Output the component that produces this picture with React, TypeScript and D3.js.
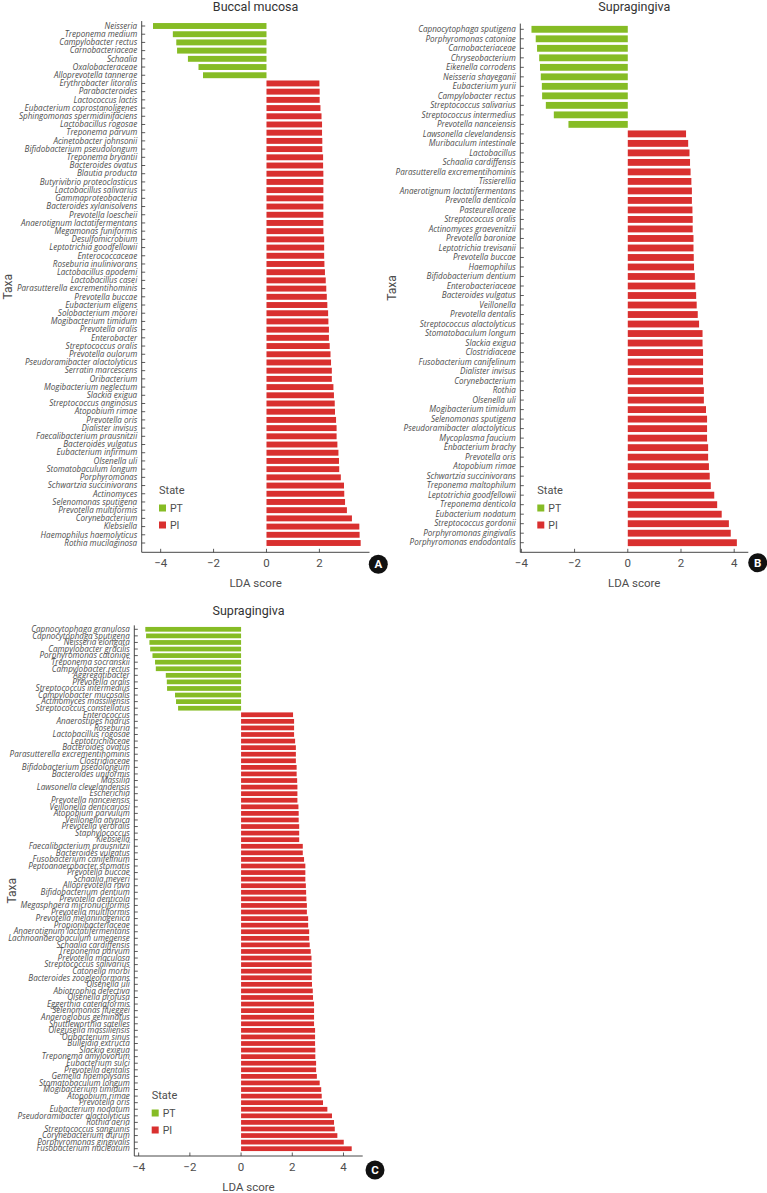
import React from "react";
import * as d3 from "d3";

// ---------- DATA ----------
const buccalTaxa = [
  "Neisseria", "Treponema medium", "Campylobacter rectus", "Carnobacteriaceae", "Schaalia",
  "Oxalobacteraceae", "Alloprevotella tannerae",
  "Erythrobacter litoralis", "Parabacteroides", "Lactococcus lactis", "Eubacterium coprostanoligenes",
  "Sphingomonas spermidinifaciens", "Lactobacillus rogosae", "Treponema parvum", "Acinetobacter johnsonii",
  "Bifidobacterium pseudolongum", "Treponema bryantii", "Bacteroides ovatus", "Blautia producta",
  "Butyrivibrio proteoclasticus", "Lactobacillus salivarius", "Gammaproteobacteria", "Bacteroides xylanisolvens",
  "Prevotella loescheii", "Anaerotignum lactatifermentans", "Megamonas funiformis", "Desulfomicrobium",
  "Leptotrichia goodfellowii", "Enterococcaceae", "Roseburia inulinivorans", "Lactobacillus apodemi",
  "Lactobacillus casei", "Parasutterella excrementihominis", "Prevotella buccae", "Eubacterium eligens",
  "Solobacterium moorei", "Mogibacterium timidum", "Prevotella oralis", "Enterobacter",
  "Streptococcus oralis", "Prevotella oulorum", "Pseudoramibacter alactolyticus", "Serratin marcescens",
  "Oribacterium", "Mogibacterium neglectum", "Slackia exigua", "Streptococcus anginosus",
  "Atopobium rimae", "Prevotella oris", "Dialister invisus", "Faecalibacterium prausnitzii",
  "Bacteroides vulgatus", "Eubacterium infirmum", "Olsenella uli", "Stomatobaculum longum",
  "Porphyromonas", "Schwartzia succinivorans", "Actinomyces", "Selenomonas sputigena",
  "Prevotella multiformis", "Corynebacterium", "Klebsiella", "Haemophilus haemolyticus", "Rothia mucilaginosa",
];
const buccalLDA = [
  -4.29, -3.54, -3.41, -3.38, -2.97, -2.57, -2.40,
  2.00, 2.01, 2.01, 2.04, 2.08, 2.10, 2.10, 2.11, 2.11, 2.14, 2.14, 2.15, 2.15, 2.15, 2.15, 2.15,
  2.15, 2.15, 2.15, 2.18, 2.18, 2.18, 2.19, 2.21, 2.24, 2.26, 2.28, 2.30, 2.33, 2.34, 2.36, 2.36,
  2.39, 2.42, 2.44, 2.47, 2.47, 2.53, 2.55, 2.58, 2.59, 2.63, 2.65, 2.65, 2.68, 2.72, 2.74, 2.75,
  2.81, 2.93, 2.94, 2.97, 3.04, 3.23, 3.51, 3.52, 3.56,
];

const supraBTaxa = [
  "Capnocytophaga sputigena", "Porphyromonas catoniae", "Carnobacteriaceae", "Chryseobacterium",
  "Eikenella corrodens", "Neisseria shayeganii", "Eubacterium yurii", "Campylobacter rectus",
  "Streptococcus salivarius", "Streptococcus intermedius", "Prevotella nanceiensis",
  "Lawsonella clevelandensis", "Muribaculum intestinale", "Lactobacillus", "Schaalia cardiffensis",
  "Parasutterella excrementihominis", "Tissierellia", "Anaerotignum lactatifermentans", "Prevotella denticola",
  "Pasteurellaceae", "Streptococcus oralis", "Actinomyces graevenitzii", "Prevotella baroniae",
  "Leptotrichia trevisanii", "Prevotella buccae", "Haemophilus", "Bifidobacterium dentium",
  "Enterobacteriaceae", "Bacteroides vulgatus", "Veillonella", "Prevotella dentalis",
  "Streptococcus alactolyticus", "Stomatobaculum longum", "Slackia exigua", "Clostridiaceae",
  "Fusobacterium canifelinum", "Dialister invisus", "Corynebacterium", "Rothia", "Olsenella uli",
  "Mogibacterium timidum", "Selenomonas sputigena", "Pseudoramibacter alactolyticus", "Mycoplasma faucium",
  "Enbacterium brachy", "Prevotella oris", "Atopobium rimae", "Schwartzia succinivorans",
  "Treponema maltophilum", "Leptotrichia goodfellowii", "Treponema denticola", "Eubacterium nodatum",
  "Streptococcus gordonii", "Porphyromonas gingivalis", "Porphyromonas endodontalis",
];
const supraBLDA = [
  -3.62, -3.46, -3.41, -3.33, -3.30, -3.27, -3.23, -3.22, -3.08, -2.78, -2.23,
  2.19, 2.27, 2.32, 2.34, 2.36, 2.39, 2.41, 2.41, 2.43, 2.44, 2.44, 2.47, 2.47, 2.48, 2.49, 2.52,
  2.54, 2.57, 2.59, 2.63, 2.68, 2.81, 2.81, 2.83, 2.83, 2.83, 2.83, 2.86, 2.86, 2.94, 2.98, 2.98,
  2.98, 3.02, 3.02, 3.05, 3.08, 3.12, 3.25, 3.36, 3.53, 3.80, 3.87, 4.10,
];

const supraCTaxa = [
  "Capnocytophaga granulosa", "Capnocytophaga sputigena", "Neisseria elongata", "Campylobacter gracilis",
  "Porphyromonas catoniae", "Treponema socranskii", "Campylobacter rectus", "Aggregatibacter",
  "Prevotella oralis", "Streptococcus intermedius", "Campylobacter mucosalis", "Actinomyces massiliensis",
  "Streptococcus constellatus",
  "Enterococcus", "Anaerostipes hadrus", "Roseburia", "Lactobacillus rogosae", "Leptotrichiaceae",
  "Bacteroides ovatus", "Parasutterella excrementihominis", "Clostridiaceae", "Bifidobacterium psedolongum",
  "Bacteroides uniformis", "Massilia", "Lawsonella clevelandensis", "Escherichia", "Prevotella nanceiensis",
  "Veillonella denticariosi", "Atopobium parvulum", "Veillonella atypica", "Prevotella veroralis",
  "Staphylococcus", "Klebsiella", "Faecalibacterium prausnitzii", "Bacteroides vulgatus",
  "Fusobacterium canifelinum", "Peptoanaerobacter stomatis", "Prevotella buccae", "Schaalia meyeri",
  "Alloprevotella rava", "Bifidobacterium dentium", "Prevotella denticola", "Megasphaera micronuciformis",
  "Prevotella multiformis", "Prevotella melaninogenica", "Propionibacteriaceae", "Anaerotignum lactatifermentans",
  "Lachnoanaerobaculum umeaense", "Schaalia cardiffensis", "Treponema parvum", "Prevotella maculosa",
  "Streptococcus salivarius", "Catonella morbi", "Bacteroides zoogleoformans", "Olsenella uli",
  "Abiotrophia defectiva", "Olsenella profusa", "Eggerthia catenaformis", "Selenomonas flueggei",
  "Anaeroglobus geminatus", "Shuttleworthia satelles", "Olegusella massiliensis", "Oribacterium sinus",
  "Bulleidia extructa", "Slackia exigua", "Treponema amylovorum", "Eubacterium sulci", "Prevotella dentalis",
  "Gemella haemolysans", "Stomatobaculum longum", "Mogibacterium timidum", "Atopobium rimae",
  "Prevotella oris", "Eubacterium nodatum", "Pseudoramibacter alactolyticus", "Rothia aeria",
  "Streptococcus sanguinis", "Corynebacterium durum", "Porphyromonas gingivalis", "Fusobacterium nucleatum",
];
const supraCLDA = [
  -3.74, -3.71, -3.58, -3.55, -3.46, -3.36, -3.33, -2.94, -2.90, -2.89, -2.58, -2.54, -2.46,
  2.03, 2.07, 2.07, 2.07, 2.11, 2.14, 2.14, 2.14, 2.17, 2.17, 2.19, 2.20, 2.20, 2.20, 2.24, 2.25,
  2.25, 2.27, 2.27, 2.27, 2.41, 2.41, 2.46, 2.51, 2.51, 2.51, 2.53, 2.54, 2.55, 2.57, 2.57, 2.62,
  2.62, 2.66, 2.66, 2.68, 2.72, 2.75, 2.76, 2.76, 2.76, 2.77, 2.80, 2.81, 2.85, 2.85, 2.85, 2.85,
  2.89, 2.89, 2.89, 2.90, 2.90, 2.93, 2.93, 2.96, 3.07, 3.13, 3.15, 3.20, 3.37, 3.55, 3.63, 3.66,
  3.76, 4.01, 4.32,
];

const xTicks = [-4, -2, 0, 2, 4];
const legendStates = ["PT", "PI"];

// ---------- STYLE ----------
const GREEN = "#86bc25";
const RED = "#d9302f";
const AXIS = "#333333";
const TEXT = "#4d4d4d";
const LABEL_FONT = "'Open Sans', 'Noto Sans', sans-serif";
const UI_FONT = "Roboto, 'Noto Sans', sans-serif";

type PanelProps = {
  title: string;
  taxa: string[];
  lda: number[];
  domain: [number, number];
  xRange: [number, number];
  firstY: number;
  lastY: number;
  axisY: number;
  titleY: number;
  taxaX: number;
  legendX: number;
  legendY: number;
  badge: string;
  badgeX: number;
  badgeY: number;
};

function Panel(p: PanelProps) {
  const x = d3.scaleLinear().domain(p.domain).range(p.xRange);
  const y = d3.scalePoint<string>().domain(p.taxa).range([p.firstY, p.lastY]);
  const step = y.step();
  const barH = step * 0.72;
  const axisX = p.xRange[0];
  const yTop = p.firstY - step * 0.6;
  const midX = (p.xRange[0] + p.xRange[1]) / 2;
  const ticks = xTicks.filter((t) => t >= p.domain[0] && t <= p.domain[1]);
  const colorScale = d3.scaleOrdinal<string, string>().domain(legendStates).range([GREEN, RED]);
  return (
    <g>
      <text x={midX} y={p.titleY} textAnchor="middle" fontFamily={UI_FONT} fontSize={12.5} fill="#333">
        {p.title}
      </text>
      {p.taxa.map((name, i) => {
        const v = p.lda[i];
        const cy = y(name)!;
        const x0 = x(Math.min(0, v));
        const x1 = x(Math.max(0, v));
        return (
          <g key={name + i}>
            <rect x={x0} y={cy - barH / 2} width={x1 - x0} height={barH}
              fill={colorScale(v < 0 ? "PT" : "PI")} />
            <line x1={axisX} x2={axisX + 3.5} y1={cy} y2={cy} stroke={AXIS} strokeWidth={0.8} />
            <text x={axisX - 4.5} y={cy} dy="0.34em" textAnchor="end" fontFamily={LABEL_FONT}
              fontStyle="italic" fontSize={8.1} fill={TEXT}>
              {name}
            </text>
          </g>
        );
      })}
      <line x1={axisX} x2={axisX} y1={yTop} y2={p.axisY} stroke={AXIS} strokeWidth={0.9} />
      <line x1={p.xRange[0]} x2={p.xRange[1]} y1={p.axisY} y2={p.axisY} stroke={AXIS} strokeWidth={0.9} />
      {ticks.map((t) => (
        <g key={t}>
          <line x1={x(t)} x2={x(t)} y1={p.axisY} y2={p.axisY - 3.5} stroke={AXIS} strokeWidth={0.8} />
          <text x={x(t)} y={p.axisY + 15} textAnchor="middle" fontFamily={UI_FONT} fontSize={11.5} fill={TEXT}>
            {t < 0 ? "\u2212" + Math.abs(t) : String(t)}
          </text>
        </g>
      ))}
      <text x={midX} y={p.axisY + 35} textAnchor="middle" fontFamily={UI_FONT} fontSize={11.5} fill={TEXT}>
        LDA score
      </text>
      <text transform={`translate(${p.taxaX},${(yTop + p.axisY) / 2}) rotate(-90)`} textAnchor="middle"
        dy="0.35em" fontFamily={UI_FONT} fontSize={12} fill={TEXT}>
        Taxa
      </text>
      <text x={p.legendX} y={p.legendY + 4} fontFamily={UI_FONT} fontSize={11} fill={TEXT}>State</text>
      {legendStates.map((s, i) => (
        <g key={s}>
          <rect x={p.legendX} y={p.legendY + 14.5 + i * 17} width={7} height={7} fill={colorScale(s)} />
          <text x={p.legendX + 11} y={p.legendY + 18 + i * 17} dy="0.35em" fontFamily={UI_FONT} fontSize={10.5} fill={TEXT}>
            {s}
          </text>
        </g>
      ))}
      <circle cx={p.badgeX} cy={p.badgeY} r={9.5} fill="#111" />
      <text x={p.badgeX} y={p.badgeY} dy="0.36em" textAnchor="middle" fontFamily={UI_FONT}
        fontWeight="bold" fontSize={11.5} fill="#fff">
        {p.badge}
      </text>
    </g>
  );
}

export default function App() {
  return (
    <svg width={767} height={1193} style={{ position: "absolute", left: 0, top: 0, background: "#fff" }}>
      <rect width={767} height={1193} fill="#fff" />
      <Panel title="Buccal mucosa" taxa={buccalTaxa} lda={buccalLDA}
        domain={[-4.717, 3.894]} xRange={[141.7, 369.5]}
        firstY={26} lastY={543} axisY={552.3} titleY={10.5} taxaX={8}
        legendX={159} legendY={490} badge="A" badgeX={378.3} badgeY={564.3} />
      <Panel title="Supragingiva" taxa={supraBTaxa} lda={supraBLDA}
        domain={[-4.04, 4.53]} xRange={[520.3, 748.3]}
        firstY={29.3} lastY={542.7} axisY={552.3} titleY={10.5} taxaX={392}
        legendX={537.3} legendY={490} badge="B" badgeX={757.7} badgeY={562.7} />
      <Panel title="Supragingiva" taxa={supraCTaxa} lda={supraCLDA}
        domain={[-4.17, 4.75]} xRange={[134.3, 362.7]}
        firstY={629.3} lastY={1148.7} axisY={1156} titleY={615} taxaX={12}
        legendX={151.7} legendY={1095} badge="C" badgeX={375} badgeY={1170} />
    </svg>
  );
}
